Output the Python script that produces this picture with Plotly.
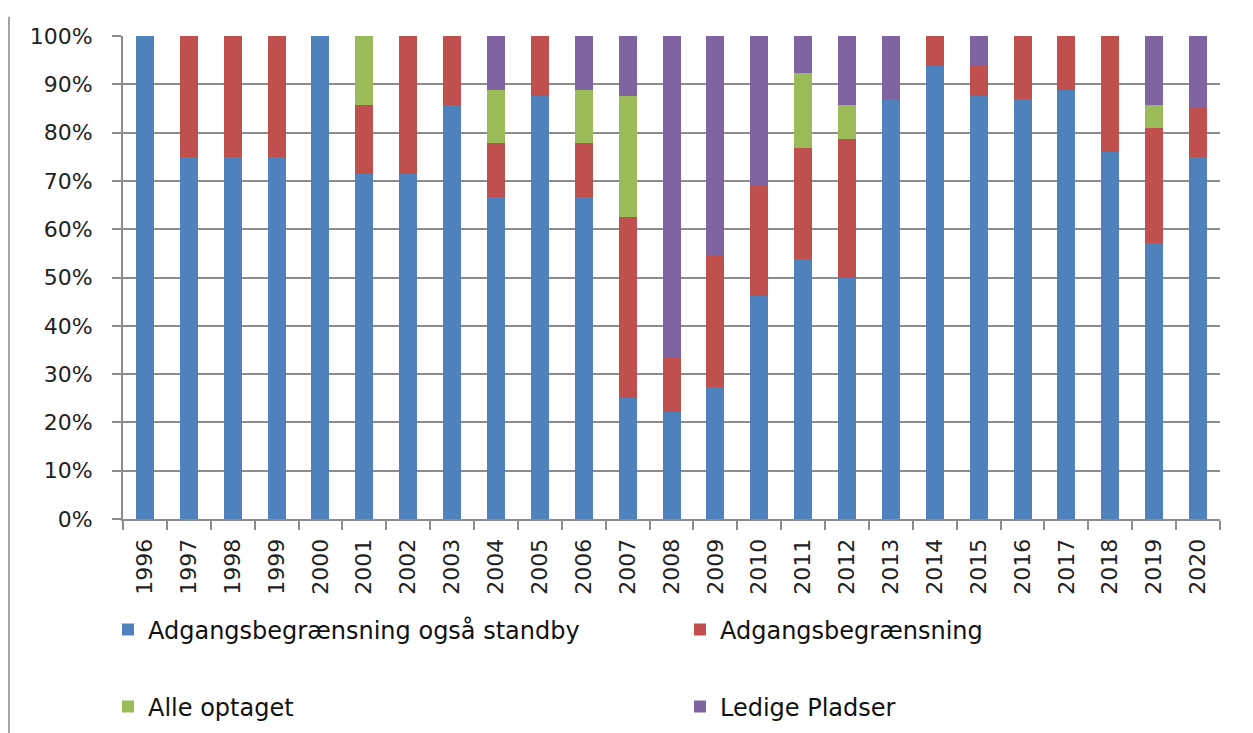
"""Stacked 100% bar chart: access restriction status per year."""

import plotly.graph_objects as go

years = [str(y) for y in range(1996, 2021)]

# shares in percent
standby = [100, 75, 75, 75, 100, 71.4, 71.4, 85.7, 66.7, 87.5, 66.7, 25, 22.2, 27.3, 46.2,
           53.8, 50, 87, 93.75, 87.5, 87, 88.9, 76, 57.1, 75]
restricted = [0, 25, 25, 25, 0, 14.3, 28.6, 14.3, 11.1, 12.5, 11.1, 37.5, 11.1, 27.2, 23.0,
              23.1, 28.6, 0, 6.25, 6.25, 13, 11.1, 24, 23.8, 10]
all_taken = [0, 0, 0, 0, 0, 14.3, 0, 0, 11.1, 0, 11.1, 25, 0, 0, 0,
             15.4, 7.1, 0, 0, 0, 0, 0, 0, 4.8, 0]
vacant = [0, 0, 0, 0, 0, 0, 0, 0, 11.1, 0, 11.1, 12.5, 66.7, 45.5, 30.8,
          7.7, 14.3, 13, 0, 6.25, 0, 0, 0, 14.3, 15]

series = [
    ("Adgangsbegrænsning også standby", standby, "#4F81BD"),
    ("Adgangsbegrænsning", restricted, "#C0504D"),
    ("Alle optaget", all_taken, "#9BBB59"),
    ("Ledige Pladser", vacant, "#8064A2"),
]
# legend slots (container fractions): two columns, two rows
legend_pos = [(0.0798, 0.1514), (0.5363, 0.1514), (0.0798, 0.0464), (0.5363, 0.0464)]

GRID = "#8c8c8c"
TICK_FONT = dict(family="DejaVu Sans", size=22, color="#222")
LEG_FONT = dict(family="DejaVu Sans", size=24, color="#111")

fig = go.Figure()
legends = {}
for i, (name, vals, color) in enumerate(series):
    key = "legend" if i == 0 else f"legend{i + 1}"
    fig.add_trace(go.Bar(x=years, y=vals, name=name, marker_color=color,
                         marker_line_width=0, legend=key, showlegend=True))
    lx, ly = legend_pos[i]
    legends[key] = dict(xref="container", yref="container", x=lx, y=ly,
                        xanchor="left", yanchor="middle", orientation="h",
                        font=LEG_FONT, bgcolor="rgba(0,0,0,0)")

fig.update_layout(
    barmode="stack",
    bargap=0.59,
    width=1253,
    height=733,
    showlegend=True,
    margin=dict(l=115, r=41, t=28, b=222, autoexpand=False),
    paper_bgcolor="white",
    plot_bgcolor="white",
    **legends,
)
fig.update_xaxes(
    type="category", tickangle=-90, tickfont=TICK_FONT,
    showline=True, linecolor=GRID, linewidth=2,
    ticks="outside", tickson="boundaries", ticklen=9, tickcolor=GRID, tickwidth=2,
    ticklabelstandoff=9, showgrid=False,
)
fig.update_yaxes(
    range=[0, 100], dtick=10, ticksuffix="%", tickfont=TICK_FONT,
    showgrid=True, gridcolor=GRID, gridwidth=2,
    showline=True, linecolor=GRID, linewidth=2,
    ticks="outside", ticklen=9, tickcolor=GRID, tickwidth=2,
    ticklabelstandoff=15, zeroline=False,
)

# thin frame edges seen at the picture's left and right
for xp in (-0.104, 1.0292):
    fig.add_shape(type="line", xref="paper", yref="paper", x0=xp, x1=xp, y0=-0.46, y1=1.04,
                  line=dict(color="#a0a0a0", width=2))

fig.write_html("out.html")
